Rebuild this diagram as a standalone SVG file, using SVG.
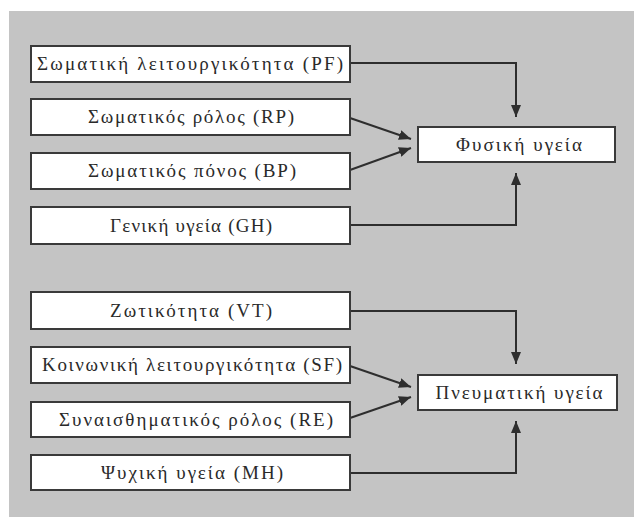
<svg xmlns="http://www.w3.org/2000/svg" width="634" height="517" viewBox="0 0 634 517">
<style>
.box{fill:#ffffff;stroke:#3a3a3a;stroke-width:2}
.t{font-family:"Liberation Serif","DejaVu Serif",serif;font-size:19px;fill:#2a2a2a;text-anchor:middle}
.c{fill:none;stroke:#2e2e2e;stroke-width:2}
</style>
<defs>
<marker id="ah" viewBox="0 0 12 10" refX="12" refY="5" markerWidth="12" markerHeight="10" markerUnits="userSpaceOnUse" orient="auto">
<path d="M0,0 L12,5 L0,10 z" fill="#2e2e2e"/>
</marker>
</defs>
<rect x="0" y="0" width="634" height="517" fill="#ffffff"/>
<rect x="9" y="11" width="625" height="506" fill="#c4c4c4"/>

<g id="connectors">
<path class="c" d="M350,63 H516 V117" marker-end="url(#ah)"/>
<path class="c" d="M350,118 L411,139" marker-end="url(#ah)"/>
<path class="c" d="M350,170 L411,148" marker-end="url(#ah)"/>
<path class="c" d="M350,225 H516 V173" marker-end="url(#ah)"/>
<path class="c" d="M350,311 H516 V364" marker-end="url(#ah)"/>
<path class="c" d="M350,366 L411,387" marker-end="url(#ah)"/>
<path class="c" d="M350,418 L411,397" marker-end="url(#ah)"/>
<path class="c" d="M350,473 H516 V421" marker-end="url(#ah)"/>
</g>

<g id="PF"><rect class="box" x="31" y="46" width="319" height="36"/><text class="t" x="190" y="70" textLength="306" lengthAdjust="spacing">Σωματική λειτουργικότητα (PF)</text></g>
<g id="RP"><rect class="box" x="31" y="99" width="319" height="36"/><text class="t" x="191" y="123" textLength="206" lengthAdjust="spacing">Σωματικός ρόλος (RP)</text></g>
<g id="BP"><rect class="box" x="31" y="153" width="319" height="36"/><text class="t" x="192" y="177" textLength="208" lengthAdjust="spacing">Σωματικός πόνος (BP)</text></g>
<g id="GH"><rect class="box" x="31" y="207" width="319" height="37"/><text class="t" x="191" y="232" textLength="162" lengthAdjust="spacing">Γενική υγεία (GH)</text></g>
<g id="PH"><rect class="box" x="418" y="127" width="197" height="35"/><text class="t" x="519" y="151" textLength="126" lengthAdjust="spacing">Φυσική υγεία</text></g>

<g id="VT"><rect class="box" x="31" y="292" width="319" height="37"/><text class="t" x="191" y="317" textLength="162" lengthAdjust="spacing">Ζωτικότητα (VT)</text></g>
<g id="SF"><rect class="box" x="31" y="347" width="319" height="36"/><text class="t" x="192" y="371" textLength="300" lengthAdjust="spacing">Κοινωνική λειτουργικότητα (SF)</text></g>
<g id="RE"><rect class="box" x="31" y="402" width="319" height="35"/><text class="t" x="196" y="426" textLength="274" lengthAdjust="spacing">Συναισθηματικός ρόλος (RE)</text></g>
<g id="MH"><rect class="box" x="31" y="455" width="319" height="35"/><text class="t" x="192" y="479" textLength="182" lengthAdjust="spacing">Ψυχική υγεία (MH)</text></g>
<g id="MHS"><rect class="box" x="418" y="375" width="199" height="35"/><text class="t" x="519" y="399" textLength="167" lengthAdjust="spacing">Πνευματική υγεία</text></g>
</svg>
